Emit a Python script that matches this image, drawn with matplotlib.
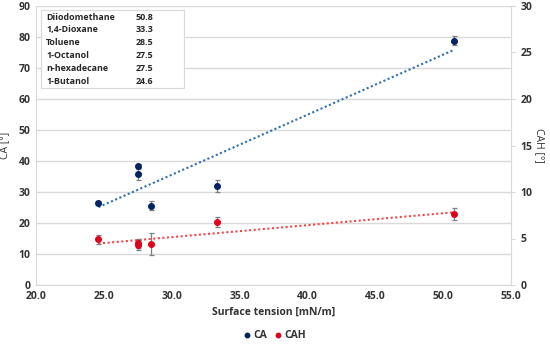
import numpy as np
import matplotlib.pyplot as plt

plt.rcParams['font.family'] = ['Open Sans', 'DejaVu Sans']

liquids = ['Diiodomethane', '1,4-Dioxane', 'Toluene', '1-Octanol', 'n-hexadecane', '1-Butanol']
tension = [50.8, 33.3, 28.5, 27.5, 27.5, 24.6]
ca = [78.8, 32.0, 25.6, 38.3, 35.8, 26.5]
ca_err = [1.5, 2.0, 1.5, 0.8, 1.8, 0.5]
cah = [7.6, 6.77, 4.4, 4.5, 4.3, 4.9]
cah_err = [0.65, 0.5, 1.15, 0.5, 0.5, 0.45]

navy = '#002366'
red = '#e0001b'
grey = '#d9d9d9'
tick_col = '#333333'

fig = plt.figure(figsize=(5.5, 3.44), dpi=100)
ax = fig.add_axes([36 / 550, 1 - 285 / 344, 475 / 550, 279 / 344])
ax2 = ax.twinx()

x = np.array(tension)
# trendlines
xs = np.array([x.min(), x.max()])
p1 = np.polyfit(x, ca, 1)
ax.plot(xs, np.polyval(p1, xs), ls=(0, (1, 1.2)), color='#2e6fb0', lw=1.5, zorder=2)
p2 = np.polyfit(x, cah, 1)
ax2.plot(xs, np.polyval(p2, xs), ls=(0, (1, 1.2)), color='#f04848', lw=1.5, zorder=2)

ax.errorbar(x, ca, yerr=ca_err, fmt='o', color=navy, ms=4, ecolor='#7f7f7f',
            elinewidth=0.9, capsize=1.8, capthick=0.9, zorder=3, label='CA')
ax2.errorbar(x, cah, yerr=cah_err, fmt='o', color=red, ms=4, ecolor='#7f7f7f',
             elinewidth=0.9, capsize=1.8, capthick=0.9, zorder=3, label='CAH')

ax.set_xlim(20, 55)
ax.set_ylim(0, 90)
ax2.set_ylim(0, 30)
ax.set_xticks(np.arange(20, 56, 5))
ax.set_xticklabels(['%.1f' % v for v in np.arange(20, 56, 5)])
ax.set_yticks(np.arange(0, 91, 10))
ax2.set_yticks(np.arange(0, 31, 5))

ax.grid(axis='y', color=grey, lw=1)
ax.set_axisbelow(True)
for a in (ax, ax2):
    for s in a.spines.values():
        s.set_visible(False)
ax.spines['bottom'].set_visible(True)
ax.spines['bottom'].set_color(grey)
ax.spines['left'].set_visible(True)
ax.spines['left'].set_color(grey)
ax2.spines['right'].set_visible(True)
ax2.spines['right'].set_color(grey)

fs = 7.5
ax.tick_params(axis='both', length=0, labelsize=fs, labelcolor=tick_col, pad=4)
ax2.tick_params(axis='y', length=3, color=grey, labelsize=fs, labelcolor=tick_col, pad=4)
for lbl in ax.get_xticklabels() + ax.get_yticklabels() + ax2.get_yticklabels():
    lbl.set_fontweight('bold')

ax.set_xlabel('Surface tension [mN/m]', fontsize=fs, fontweight='bold', color=tick_col, labelpad=4)
ax.set_ylabel('CA [°]', fontsize=fs, color=tick_col, labelpad=6)
ax2.set_ylabel('CAH [°]', fontsize=fs, color=tick_col, rotation=270, labelpad=9)

# inset table with surface tensions
box_x0, box_y0 = 41 / 550, 1 - 88 / 344
box = plt.Rectangle((box_x0, box_y0), 143 / 550, 78 / 344, transform=fig.transFigure,
                    facecolor='white', edgecolor=grey, lw=0.8, zorder=5)
fig.patches.append(box)
for i, (name, t) in enumerate(zip(liquids, tension)):
    yy = 1 - (17 + i * 12.8) / 344
    fig.text(46 / 550, yy, name, fontsize=6.4, fontweight='bold', color='#262626',
             va='center', zorder=6)
    fig.text(136 / 550, yy, '%.1f' % t, fontsize=6.4, fontweight='bold', color='#262626',
             va='center', zorder=6)

h1, l1 = ax.get_legend_handles_labels()
h2, l2 = ax2.get_legend_handles_labels()
leg = fig.legend([h1[0][0], h2[0][0]], ['CA', 'CAH'], loc='center', bbox_to_anchor=(275 / 550, 1 - 336 / 344),
                 ncol=2, frameon=False, fontsize=fs, handlelength=0.6, handletextpad=0.3,
                 columnspacing=0.8, markerscale=0.8)
for t in leg.get_texts():
    t.set_fontweight('bold')
    t.set_color(tick_col)

fig.savefig('out.png', dpi=100)
